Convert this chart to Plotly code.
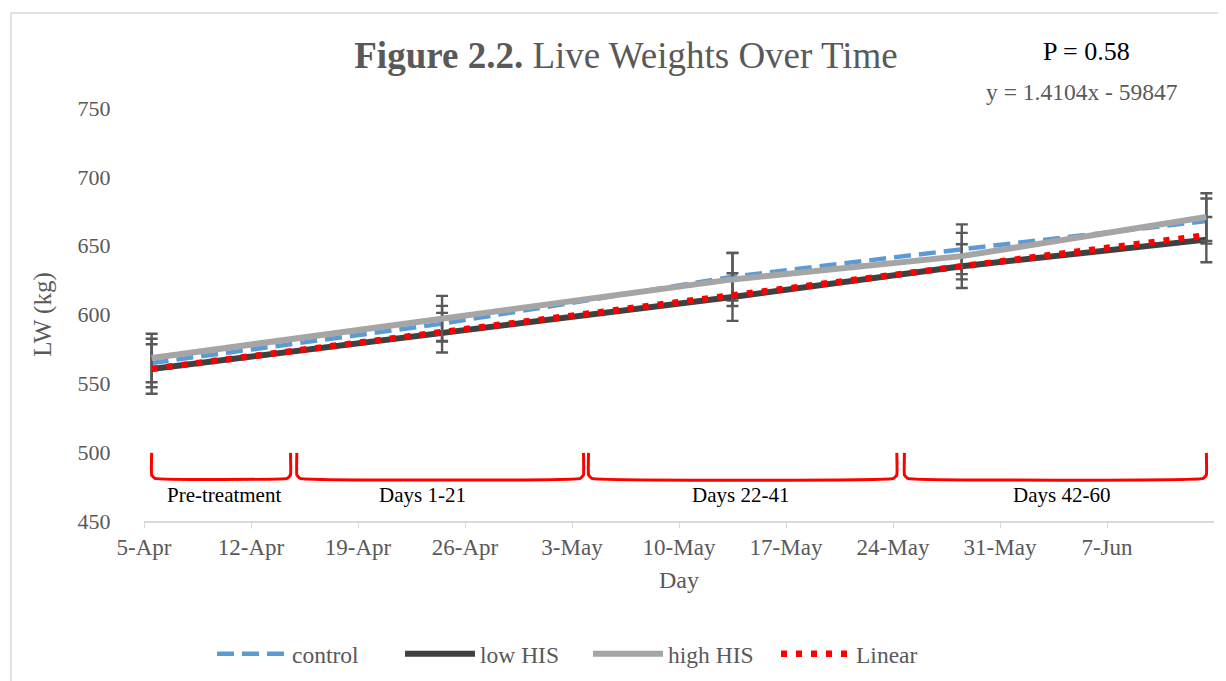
import plotly.graph_objects as go
import pandas as pd

# ---- data ----
dates = ["2017-04-05", "2017-04-24", "2017-05-13", "2017-05-28", "2017-06-13"]
control = [564.8, 593.3, 627.4, 647.4, 667.9]
low_his = [560.4, 586.8, 612.7, 635.1, 654.4]
high_his = [568.4, 597.1, 625.5, 642.4, 670.8]
control_err = [17.6, 13.0, 17.3, 18.1, 16.4]
low_err = [18.0, 14.4, 17.3, 15.9, 16.4]
high_err = [17.6, 16.4, 19.3, 16.9, 17.3]
linear_dates = ["2017-04-05", "2017-06-13"]
linear = [560.5, 657.5]

period_labels = ["Pre-treatment", "Days 1-21", "Days 22-41", "Days 42-60"]
period_starts = ["2017-04-05 12:00", "2017-04-15 00:00", "2017-05-04 02:00", "2017-05-24 18:00"]
period_ends = ["2017-04-14 14:00", "2017-05-03 18:00", "2017-05-24 06:00", "2017-06-13 12:00"]
period_centers = ["2017-04-10 05:00", "2017-04-23 06:00", "2017-05-14 00:00", "2017-06-04 00:00"]

tick_vals = ["2017-04-05", "2017-04-12", "2017-04-19", "2017-04-26", "2017-05-03",
             "2017-05-10", "2017-05-17", "2017-05-24", "2017-05-31", "2017-06-07"]
tick_text = ["5-Apr", "12-Apr", "19-Apr", "26-Apr", "3-May",
             "10-May", "17-May", "24-May", "31-May", "7-Jun"]
axis_range = ["2017-04-05", "2017-06-14"]

FONT = "Liberation Serif, Times New Roman, serif"
GREY_TXT = "#595959"
ERR_COL = "#595959"

W, H = 1226, 681
ML, MR, MT, MB = 136, 20, 100, 168
PW, PH = W - ML - MR, H - MT - MB


def px(x):
    return (x - ML) / PW


def py(y):
    return (H - MB - y) / PH


def shift(d, hours):
    return (pd.Timestamp(d) + pd.Timedelta(hours=hours)).strftime("%Y-%m-%d %H:%M")


# date axis "between tick marks": each day is plotted in the middle of its day slot
xs = [shift(d, 12) for d in dates]
lin_x = [shift(d, 12) for d in linear_dates]

fig = go.Figure()

# brackets
for s, e in zip(period_starts, period_ends):
    fig.add_trace(go.Scatter(
        x=[s, s, shift(s, 5), shift(e, -5), e, e],
        y=[499.5, 483.5, 481, 481, 483.5, 499.5],
        mode="lines", line=dict(color="#FF0000", width=3, shape="spline", smoothing=0.3),
        showlegend=False, hoverinfo="skip", cliponaxis=False))

err_style = dict(type="data", color=ERR_COL, thickness=2.4, width=6)
fig.add_trace(go.Scatter(
    x=xs, y=control, name="control", mode="lines", cliponaxis=False,
    line=dict(color="#5B9BD5", width=4.5, dash="17px,8px"),
    error_y=dict(array=control_err, **err_style)))
fig.add_trace(go.Scatter(
    x=xs, y=low_his, name="low HIS", mode="lines", cliponaxis=False,
    line=dict(color="#404040", width=6),
    error_y=dict(array=low_err, **err_style)))
fig.add_trace(go.Scatter(
    x=xs, y=high_his, name="high HIS", mode="lines", cliponaxis=False,
    line=dict(color="#A5A5A5", width=6),
    error_y=dict(array=high_err, **err_style)))
fig.add_trace(go.Scatter(
    x=lin_x, y=linear, name="Linear", mode="lines", cliponaxis=False,
    line=dict(color="#FF0000", width=6.5, dash="6px,9px")))

for lab, c in zip(period_labels, period_centers):
    fig.add_annotation(x=c, y=469, text=lab, showarrow=False,
                       xanchor="center", yanchor="middle",
                       font=dict(family=FONT, size=21, color="#000000"))

# P value and equation
fig.add_annotation(xref="paper", yref="paper", x=px(1078), y=py(44),
                   xanchor="center", yanchor="middle",
                   text="P = 0.58", showarrow=False,
                   font=dict(family=FONT, size=26, color="#000000"))
fig.add_annotation(xref="paper", yref="paper", x=px(1074), y=py(84),
                   xanchor="center", yanchor="middle",
                   text="y = 1.4104x - 59847", showarrow=False,
                   font=dict(family=FONT, size=23.5, color=GREY_TXT))

# chart-area border
fig.add_shape(type="rect", xref="paper", yref="paper",
              x0=px(3), x1=px(1219), y0=py(700), y1=py(5),
              line=dict(color="#D9D9D9", width=1.5), layer="below")

fig.update_layout(
    width=W, height=H,
    margin=dict(l=ML, r=MR, t=MT, b=MB, autoexpand=False),
    paper_bgcolor="white", plot_bgcolor="white",
    font=dict(family=FONT, color=GREY_TXT, size=20),
    title=dict(text="<b>Figure 2.2.</b> Live Weights Over Time",
               x=618 / W, xanchor="center", y=1 - 47 / H, yanchor="middle",
               font=dict(family=FONT, size=37, color=GREY_TXT)),
    legend=dict(orientation="h", x=px(204), xanchor="left", y=py(646), yanchor="middle",
                font=dict(family=FONT, size=23.5, color=GREY_TXT), itemwidth=70,
                entrywidth=103, entrywidthmode="pixels",
                traceorder="normal"),
    xaxis=dict(type="date", range=axis_range,
               tickvals=tick_vals, ticktext=tick_text,
               showgrid=False, zeroline=False,
               showline=True, linecolor="#D9D9D9", linewidth=1.5,
               ticks="outside", ticklen=5, tickcolor="#D9D9D9",
               tickfont=dict(family=FONT, size=23, color=GREY_TXT),
               title=dict(text="Day", font=dict(family=FONT, size=24, color=GREY_TXT), standoff=12)),
    yaxis=dict(range=[450, 750], dtick=50, showgrid=False, zeroline=False, showline=False,
               tickfont=dict(family=FONT, size=22, color=GREY_TXT),
               ticks="outside", ticklen=28, tickcolor="rgba(0,0,0,0)",
               title=dict(text="LW (kg)", font=dict(family=FONT, size=25, color=GREY_TXT), standoff=18)),
)

fig.write_html("out.html")
